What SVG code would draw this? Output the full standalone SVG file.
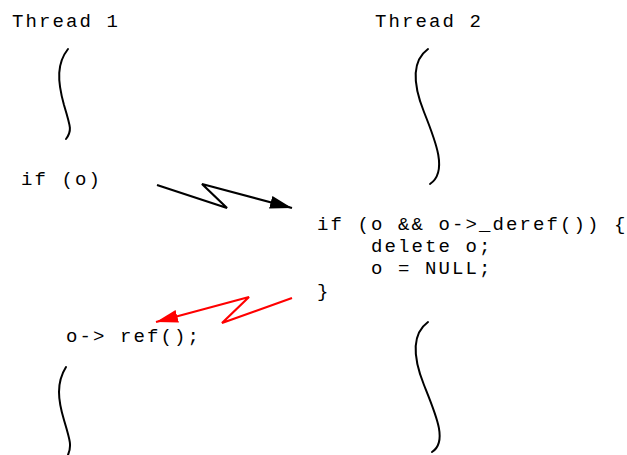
<svg xmlns="http://www.w3.org/2000/svg" width="627" height="455" viewBox="0 0 627 455">
<style>
text { font-family: "Liberation Mono", "Courier New", monospace; font-size: 19px; letter-spacing: 2.1px; fill: #000; }
.brace { fill: none; stroke: #000; stroke-width: 2; stroke-linecap: round; }
.bolt { fill: none; stroke-width: 2.2; stroke-linejoin: miter; }
</style>
<defs>
<marker id="ahBlack" markerUnits="userSpaceOnUse" markerWidth="24" markerHeight="14" refX="22" refY="6.5" orient="auto">
<path d="M0,0 L22,6.5 L0,13 Z" fill="#000"/>
</marker>
<marker id="ahRed" markerUnits="userSpaceOnUse" markerWidth="24" markerHeight="14" refX="22" refY="6.5" orient="auto">
<path d="M0,0 L22,6.5 L0,13 Z" fill="#ff0000"/>
</marker>
</defs>
<g id="thread1-label"><text x="12" y="27">Thread 1</text></g>
<g id="thread2-label"><text x="375" y="27">Thread 2</text></g>
<g id="thread1-top"><path class="brace" d="M68,49 C57,63 57,80 64,105 C71,128 72,131 66,139"/></g>
<g id="thread2-top"><path class="brace" d="M428,49 C413,60 412,82 424,112 C436,142 448,172 430,184"/></g>
<g id="if-o"><text x="21" y="185">if (o)</text></g>
<g id="deref-block">
<text x="317" y="230">if (o &amp;&amp; o-&gt;_deref()) {</text>
<text x="317" y="252" xml:space="preserve">    delete o;</text>
<text x="317" y="274" xml:space="preserve">    o = NULL;</text>
<text x="317" y="297">}</text>
</g>
<g id="ref-call"><text x="66" y="342">o-&gt; ref();</text></g>
<g id="thread1-bottom"><path class="brace" d="M66,367 C56,383 58,400 64,420 C70,440 72,446 68,455"/></g>
<g id="thread2-bottom"><path class="brace" d="M428,322 C413,333 412,355 424,385 C436,415 448,442 432,452"/></g>
<g id="connectors">
<polyline class="bolt" stroke="#000" points="157,185 227,208 202,184 292,208" marker-end="url(#ahBlack)"/>
<polyline class="bolt" stroke="#ff0000" points="292,298 222,323 249,297 156,322" marker-end="url(#ahRed)"/>
</g>
</svg>
